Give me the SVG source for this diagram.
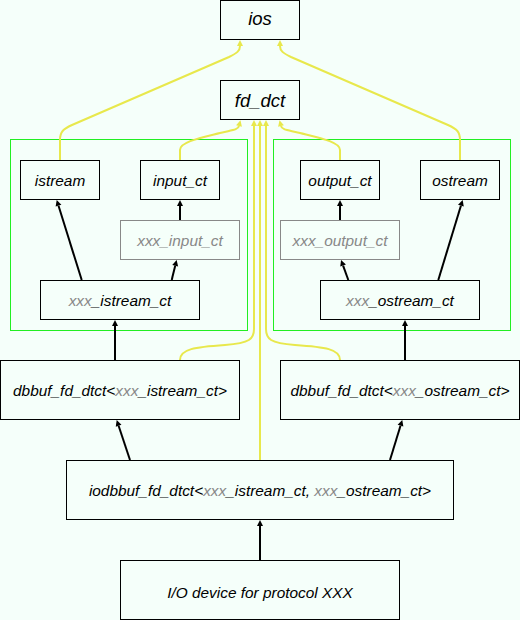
<svg xmlns="http://www.w3.org/2000/svg" width="520" height="620" viewBox="0 0 520 620">
<defs>
<style>
.bg{fill:#f5fffa}
.node{fill:none;stroke:#000;stroke-width:1}
.gnode{fill:none;stroke:#888;stroke-width:1}
.cluster{fill:none;stroke:#22ee22;stroke-width:1}
text{font-family:"Liberation Sans",Arial,sans-serif;font-style:italic;font-size:15.4px;fill:#000;text-anchor:middle}
text.big{font-size:18.5px}
.g{fill:#888}
.blk{fill:none;stroke:#000;stroke-width:2;marker-end:url(#ab)}
.yel{fill:none;stroke:#e8e84c;stroke-width:2;marker-end:url(#ay)}
</style>
<marker id="ab" markerUnits="userSpaceOnUse" markerWidth="8" markerHeight="8" refX="0" refY="0" viewBox="0 -4 7 8" orient="auto"><path d="M0,-3 L6,0 L0,3 z" fill="#000"/></marker>
<marker id="ay" markerUnits="userSpaceOnUse" markerWidth="8" markerHeight="8" refX="0" refY="0" viewBox="0 -4 7 8" orient="auto"><path d="M0,-3 L6,0 L0,3 z" fill="#e8e84c"/></marker>
</defs>
<rect class="bg" x="0" y="0" width="520" height="620"/>
<g id="clusters">
<rect id="cluster_in" class="cluster" x="10.5" y="139.5" width="237" height="191"/>
<rect id="cluster_out" class="cluster" x="273.5" y="139.5" width="237" height="191"/>
</g>
<g id="n_ios"><rect class="node" x="220.5" y="0.5" width="79" height="39"/><text class="big" x="260" y="25">ios</text></g>
<g id="n_fd_dct"><rect class="node" x="220.5" y="80.5" width="79" height="39"/><text class="big" x="260" y="106.5">fd_dct</text></g>
<g id="n_istream"><rect class="node" x="20.5" y="160.5" width="79" height="39"/><text x="60" y="185.5">istream</text></g>
<g id="n_input_ct"><rect class="node" x="140.5" y="160.5" width="79" height="39"/><text x="180" y="185.5">input_ct</text></g>
<g id="n_xxx_input_ct"><rect class="gnode" x="120.5" y="220.5" width="119" height="39"/><text class="g" x="180" y="245.5">xxx_input_ct</text></g>
<g id="n_xxx_istream_ct"><rect class="node" x="40.5" y="280.5" width="159" height="39"/><text x="120" y="305.5"><tspan class="g">xxx</tspan>_istream_ct</text></g>
<g id="n_output_ct"><rect class="node" x="300.5" y="160.5" width="79" height="39"/><text x="340" y="185.5">output_ct</text></g>
<g id="n_ostream"><rect class="node" x="420.5" y="160.5" width="79" height="39"/><text x="460" y="185.5">ostream</text></g>
<g id="n_xxx_output_ct"><rect class="gnode" x="280.5" y="220.5" width="119" height="39"/><text class="g" x="340" y="245.5">xxx_output_ct</text></g>
<g id="n_xxx_ostream_ct"><rect class="node" x="320.5" y="280.5" width="159" height="39"/><text x="400" y="305.5"><tspan class="g">xxx</tspan>_ostream_ct</text></g>
<g id="n_dbbuf_in"><rect class="node" x="0.5" y="360.5" width="239" height="59"/><text x="120" y="395.5">dbbuf_fd_dtct&lt;<tspan class="g">xxx</tspan>_istream_ct&gt;</text></g>
<g id="n_dbbuf_out"><rect class="node" x="280.5" y="360.5" width="239" height="59"/><text x="400" y="395.5">dbbuf_fd_dtct&lt;<tspan class="g">xxx</tspan>_ostream_ct&gt;</text></g>
<g id="n_iodbbuf"><rect class="node" x="66.5" y="460.5" width="387" height="59"/><text x="260" y="495.5">iodbbuf_fd_dtct&lt;<tspan class="g">xxx</tspan>_istream_ct, <tspan class="g">xxx</tspan>_ostream_ct&gt;</text></g>
<g id="n_device"><rect class="node" x="120.5" y="560.5" width="279" height="59"/><text x="260" y="597.5">I/O device for protocol XXX</text></g>
<g id="connectors">
<path class="yel" d="M60,160 V140 C60,132 63,129 72,125 L229,57 C237,53 240,51 240,46"/>
<path class="yel" d="M460,160 V140 C460,132 457,129 448,125 L291,57 C283,53 280,51 280,46"/>
<path class="yel" d="M180,160 V150 C180,142 200,138 220,133 C232,130 238,130 239,126"/>
<path class="yel" d="M340,160 V150 C340,142 320,138 300,133 C288,130 282,130 281,126"/>
<path class="yel" d="M180,360 C180,349 195,347 225,345 C250,343 254,339 254,329 V126"/>
<path class="yel" d="M340,360 C340,349 325,347 295,345 C270,343 266,339 266,329 V126"/>
<path class="yel" d="M260,460 V126"/>
<path class="blk" d="M81.7,280 L58.5,205.7"/>
<path class="blk" d="M171.7,280 L175.2,265.8"/>
<path class="blk" d="M180,220 V206"/>
<path class="blk" d="M115,360 V326"/>
<path class="blk" d="M340,220 V206"/>
<path class="blk" d="M348.3,280 L343.1,265.6"/>
<path class="blk" d="M438.3,280 L460.9,205.7"/>
<path class="blk" d="M405,360 V326"/>
<path class="blk" d="M130,460 L118.6,425.7"/>
<path class="blk" d="M390,460 L400.5,425.7"/>
<path class="blk" d="M260,560 V526"/>
</g>
</svg>
